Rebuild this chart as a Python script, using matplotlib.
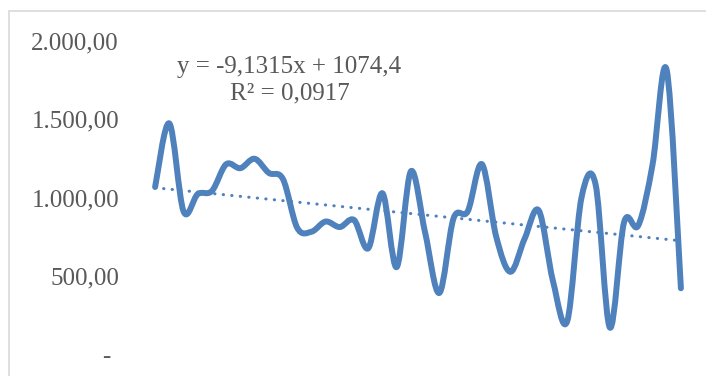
import matplotlib
matplotlib.use("Agg")
import matplotlib.pyplot as plt
import numpy as np
from matplotlib.path import Path
from matplotlib.patches import PathPatch, Rectangle
from matplotlib.transforms import blended_transform_factory, ScaledTranslation

# monthly series
periods = np.arange(1, 39)
values = [1070, 1475, 915, 1025, 1045, 1215, 1190, 1250, 1160, 1120,
          810, 785, 850, 815, 860, 680, 1030, 560, 1170, 780,
          395, 870, 915, 1215, 755, 530, 740, 920, 470, 215,
          1000, 1085, 175, 845, 825, 1210, 1815, 425]

# linear trend as reported on the chart
slope = -9.1315
intercept = 1074.4
r_squared = "0,0917"

y_ticks = [0, 500, 1000, 1500, 2000]
y_tick_labels = ["-", "500,00", "1.000,00", "1.500,00", "2.000,00"]

blue = "#4f81bd"
text_grey = "#595959"
plt.rcParams["font.family"] = ["Liberation Serif", "DejaVu Serif"]


def smooth_path(xs, ys):
    # cubic bezier through every point, spreadsheet-style smoothing
    pts = np.column_stack([xs, ys]).astype(float)
    n = len(pts)
    verts = [pts[0]]
    codes = [Path.MOVETO]
    for i in range(n - 1):
        p0 = pts[max(i - 1, 0)]
        p1 = pts[i]
        p2 = pts[i + 1]
        p3 = pts[min(i + 2, n - 1)]
        verts += [p1 + (p2 - p0) / 6, p2 - (p3 - p1) / 6, p2]
        codes += [Path.CURVE4] * 3
    return Path(verts, codes)


fig = plt.figure(figsize=(7.06, 3.76), dpi=100)
W, H = 706, 376

# chart frame (only left and top edge are inside the image)
fig.patches.append(Rectangle((9 / W, -0.1), 1.2, (H - 11) / H + 0.1,
                             transform=fig.transFigure, fill=False,
                             edgecolor="#d9d9d9", lw=1.2))

ax = fig.add_axes([148 / W, 21 / H, 540 / W, 314 / H])
ax.set_xlim(0.5, len(periods) + 0.5)
ax.set_ylim(0, 2000)
ax.set_xticks([])
ax.set_yticks([])
for s in ax.spines.values():
    s.set_visible(False)
ax.patch.set_alpha(0)

ax.add_patch(PathPatch(smooth_path(periods, values), fill=False,
                       edgecolor=blue, lw=4.3, capstyle="round",
                       joinstyle="round"))

trend = slope * periods + intercept
ax.plot([periods[0], periods[-1]], [trend[0], trend[-1]], color=blue,
        lw=2.2, linestyle=(0, (0.1, 2.7)), dash_capstyle="round")

# y tick labels
lab_trans = blended_transform_factory(fig.transFigure, ax.transData) + \
    ScaledTranslation(0, -8 / 100, fig.dpi_scale_trans)
for v, lab in zip(y_ticks, y_tick_labels):
    x = 119 if lab != "-" else 110
    ax.text(x / W, v, lab, transform=lab_trans, ha="right", va="baseline",
            fontsize=18, color=text_grey)

fig.text(289.5 / W, (H - 72.7) / H, f"y = {slope:.4f}x + {intercept}".replace(".", ","),
         ha="center", va="baseline", fontsize=18, color=text_grey)
fig.text(289.5 / W, (H - 99) / H, f"R\u00b2 = {r_squared}",
         ha="center", va="baseline", fontsize=18, color=text_grey)

fig.savefig("out.png", dpi=100)
